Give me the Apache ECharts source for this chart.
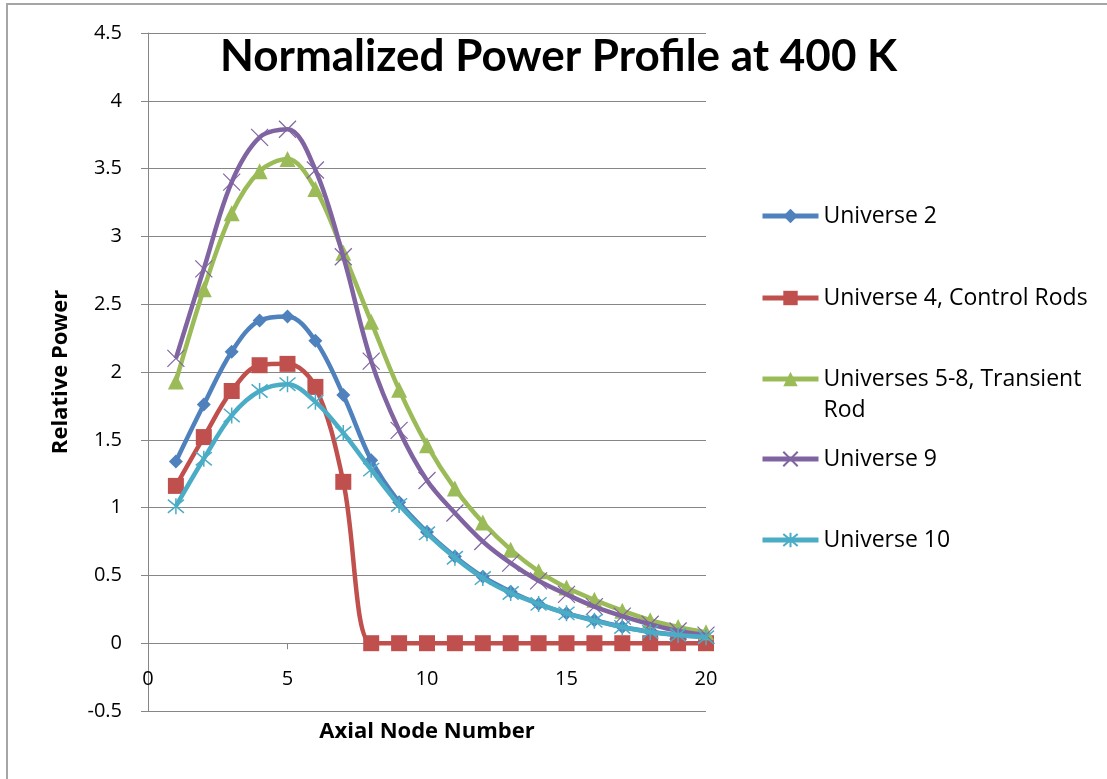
<!DOCTYPE html>
<html>
<head>
<meta charset="utf-8">
<title>Normalized Power Profile at 400 K</title>
<script src="https://cdn.jsdelivr.net/npm/echarts@6/dist/echarts.min.js"></script>
<style>
  html, body { margin: 0; padding: 0; background: #fff; }
  #chart { width: 1107px; height: 779px; }
</style>
</head>
<body>
<div id="chart"></div>
<script>
// Axial node positions
const nodes = [1, 2, 3, 4, 5, 6, 7, 8, 9, 10, 11, 12, 13, 14, 15, 16, 17, 18, 19, 20];

// Relative power per axial node
const universe2 = [1.34, 1.76, 2.15, 2.38, 2.41, 2.23, 1.83, 1.35, 1.04, 0.82, 0.64, 0.49, 0.38, 0.29, 0.22, 0.17, 0.12, 0.085, 0.06, 0.045];
const universe4 = [1.16, 1.52, 1.86, 2.05, 2.06, 1.89, 1.19, 0, 0, 0, 0, 0, 0, 0, 0, 0, 0, 0, 0, 0];
const universes58 = [1.93, 2.61, 3.17, 3.48, 3.57, 3.35, 2.88, 2.37, 1.87, 1.46, 1.14, 0.89, 0.69, 0.53, 0.41, 0.32, 0.24, 0.17, 0.12, 0.08];
const universe9 = [2.10, 2.76, 3.40, 3.73, 3.79, 3.49, 2.85, 2.08, 1.57, 1.20, 0.96, 0.75, 0.59, 0.46, 0.36, 0.27, 0.20, 0.14, 0.09, 0.06];
const universe10 = [1.01, 1.36, 1.68, 1.86, 1.91, 1.78, 1.55, 1.28, 1.02, 0.81, 0.63, 0.48, 0.37, 0.29, 0.22, 0.165, 0.12, 0.083, 0.06, 0.044];

const seriesNames = ['Universe 2', 'Universe 4, Control Rods', 'Universes 5-8, Transient Rod', 'Universe 9', 'Universe 10'];
const seriesValues = [universe2, universe4, universes58, universe9, universe10];
const seriesColors = ['#4F81BD', '#C0504D', '#9BBB59', '#8064A2', '#4BACC6'];

// Axis ticks
const yMin = -0.5, yMax = 4.5, yStep = 0.5;
const xMin = 0, xMax = 20, xStep = 5;

const TITLE_FONT = 'Lato, "Open Sans", sans-serif';
const FONT = '"Open Sans", Lato, sans-serif';

const markerSpec = [
  { symbol: 'diamond', size: 14, stroke: 0 },
  { symbol: 'rect', size: 16, stroke: 0 },
  { symbol: 'triangle', size: 16, stroke: 0 },
  { symbol: 'path://M0,0L10,10M10,0L0,10', size: 17, stroke: 1.2 },
  { symbol: 'path://M0,0L10,10M10,0L0,10M5,-1L5,11', size: 16, stroke: 1.5 }
];

const series = seriesNames.map((name, i) => ({
  name: name,
  type: 'line',
  smooth: 0.35,
  data: nodes.map((n, k) => [n, seriesValues[i][k]]),
  symbol: markerSpec[i].symbol,
  symbolSize: markerSpec[i].size,
  lineStyle: { color: seriesColors[i], width: 4.5 },
  itemStyle: {
    color: seriesColors[i],
    borderColor: seriesColors[i],
    borderWidth: markerSpec[i].stroke
  },
  emphasis: { disabled: true },
  z: 2 + i
}));

// One legend block per entry so every row sits at its own height.
// Centre line of each entry's marker:
const legendCenters = [216, 298, 379, 459, 540];
const LINE_H = 31;
const legends = seriesNames.map((name, i) => {
  const wrapped = i === 2;
  // wrapped entry: a blank first line keeps the marker level with the first text line
  const offset = wrapped ? 5 + LINE_H * 1.5 : 5 + LINE_H / 2;
  return {
    data: [name],
    orient: 'vertical',
    left: 755,
    top: legendCenters[i] - offset,
    itemWidth: 56,
    itemHeight: 18,
    selectedMode: false,
    lineStyle: { width: 5 },
    formatter: wrapped ? function () { return ' \nUniverses 5-8, Transient\nRod'; } : '{name}',
    textStyle: {
      fontFamily: FONT,
      fontSize: 23,
      color: '#000',
      lineHeight: LINE_H
    }
  };
});

const chart = echarts.init(document.getElementById('chart'), null, { renderer: 'canvas' });

chart.setOption({
  animation: false,
  backgroundColor: '#fff',
  title: {
    text: 'Normalized Power Profile at 400 K',
    left: 215,
    top: 30,
    textStyle: { fontFamily: TITLE_FONT, fontSize: 44, fontWeight: 'bold', color: '#000' }
  },
  legend: legends,
  grid: { left: 148, right: 401, top: 33, bottom: 68, containLabel: false, outerBoundsMode: 'none' },
  xAxis: {
    type: 'value',
    min: xMin,
    max: xMax,
    interval: xStep,
    name: 'Axial Node Number',
    nameLocation: 'middle',
    nameGap: 10,
    nameMoveOverlap: false,
    nameTextStyle: { fontFamily: FONT, fontSize: 22, fontWeight: 'bold', color: '#000' },
    axisLine: { onZero: true, lineStyle: { color: '#868686', width: 1 } },
    axisTick: { show: true, inside: false, length: 6, lineStyle: { color: '#868686' } },
    axisLabel: { fontFamily: FONT, fontSize: 20, color: '#000', margin: -42 },
    splitLine: { show: false }
  },
  yAxis: {
    type: 'value',
    min: yMin,
    max: yMax,
    interval: yStep,
    name: 'Relative Power',
    nameLocation: 'middle',
    nameRotate: 90,
    nameGap: 76,
    nameTextStyle: { fontFamily: FONT, fontSize: 22, fontWeight: 'bold', color: '#000' },
    axisLine: { show: true, onZero: false, lineStyle: { color: '#868686', width: 1 } },
    axisTick: { show: true, inside: false, length: 7, lineStyle: { color: '#868686' } },
    axisLabel: { fontFamily: FONT, fontSize: 20, color: '#000', margin: 26 },
    splitLine: { show: true, lineStyle: { color: '#868686', width: 1 } }
  },
  graphic: [{
    type: 'rect',
    shape: { x: 7, y: 4, width: 1200, height: 900 },
    style: { fill: 'none', stroke: '#a6a6a6', lineWidth: 2 },
    silent: true,
    z: -1
  }],
  series: series
});
</script>
</body>
</html>
